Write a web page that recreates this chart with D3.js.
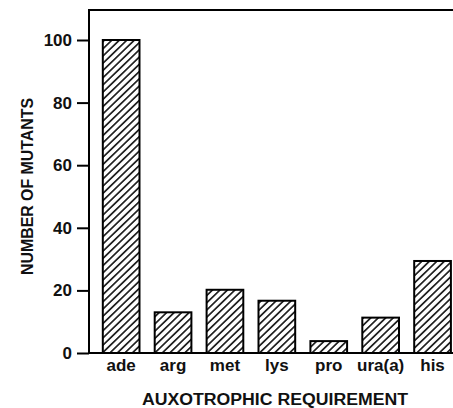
<!DOCTYPE html>
<html lang="en">
<head>
  <meta charset="utf-8"/>
  <title>Auxotrophic requirement</title>
  <script src="https://d3js.org/d3.v7.min.js"></script>
  <style>
  body { margin: 0; background: white; }
  * { font-family: "Liberation Sans", Arial, sans-serif; }
  .frame { stroke: #000; stroke-width: 2px; fill: none; }
  .bar { stroke: #000; stroke-width: 2px; }
  .tick-label { font-size: 17px; font-weight: bold; fill: #111; }
  .cat-label { font-size: 17px; font-weight: bold; fill: #111; }
  .title { font-size: 16px; font-weight: bold; fill: #111; }
  </style>
</head>
<body>
  <svg id="chart" width="453" height="408"></svg>
  <script>
    // values
    const categories = ["ade", "arg", "met", "lys", "pro", "ura(a)", "his"];
    const mutants = [100, 13, 20.2, 16.7, 3.8, 11.3, 29.4];
    const yTicks = [0, 20, 40, 60, 80, 100];

    const svg = d3.select("#chart");
    const width = +svg.attr("width");
    const left = 89, bottom = 353;

    const x = d3.scaleBand().domain(categories).range([left, 464.7])
      .paddingInner(0.293).paddingOuter(0.266);
    const y = d3.scaleLinear().domain([0, 100]).range([bottom, 40]);
    const yTop = y(109.6);

    const defs = svg.append("defs");
    const pat = defs.append("pattern").attr("id", "hatch")
      .attr("patternUnits", "userSpaceOnUse")
      .attr("width", 8).attr("height", 5.2)
      .attr("patternTransform", "rotate(-44)");
    pat.append("rect").attr("width", 8).attr("height", 5.2).attr("fill", "white");
    pat.append("line").attr("x1", 0).attr("x2", 8).attr("y1", 2.6).attr("y2", 2.6)
      .attr("stroke", "#000").attr("stroke-width", 1.5);

    // bars
    svg.append("g").selectAll("rect.bar").data(categories).join("rect")
      .attr("class", "bar")
      .attr("x", d => x(d))
      .attr("width", x.bandwidth())
      .attr("y", (d, i) => y(mutants[i]))
      .attr("height", (d, i) => bottom - y(mutants[i]))
      .attr("fill", "url(#hatch)");

    // frame: left, top, bottom
    svg.append("path").attr("class", "frame")
      .attr("d", d3.line()([[width, yTop], [left, yTop], [left, bottom], [width, bottom]]));

    // y axis ticks
    const yAxis = svg.append("g").attr("transform", "translate(" + left + ",0)")
      .call(d3.axisLeft(y).tickValues(yTicks).tickSize(12).tickPadding(5).tickFormat(d3.format("d")));
    yAxis.select(".domain").remove();
    yAxis.selectAll(".tick line").attr("stroke", "#000").attr("stroke-width", 2);
    yAxis.selectAll(".tick text").attr("class", "tick-label").attr("font-family", null).attr("font-size", null);

    // category labels
    svg.append("g").selectAll("text").data(categories).join("text")
      .attr("class", "cat-label")
      .attr("x", d => x(d) + x.bandwidth() / 2)
      .attr("y", 371)
      .attr("text-anchor", "middle")
      .text(d => d);

    svg.append("text").attr("class", "title")
      .attr("x", 275).attr("y", 405).attr("text-anchor", "middle")
      .attr("textLength", 266).attr("lengthAdjust", "spacingAndGlyphs")
      .text("AUXOTROPHIC REQUIREMENT");

    svg.append("text").attr("class", "title")
      .attr("transform", "translate(33,186.5) rotate(-90)")
      .attr("text-anchor", "middle")
      .attr("textLength", 177).attr("lengthAdjust", "spacingAndGlyphs")
      .text("NUMBER OF MUTANTS");
  </script>
</body>
</html>
